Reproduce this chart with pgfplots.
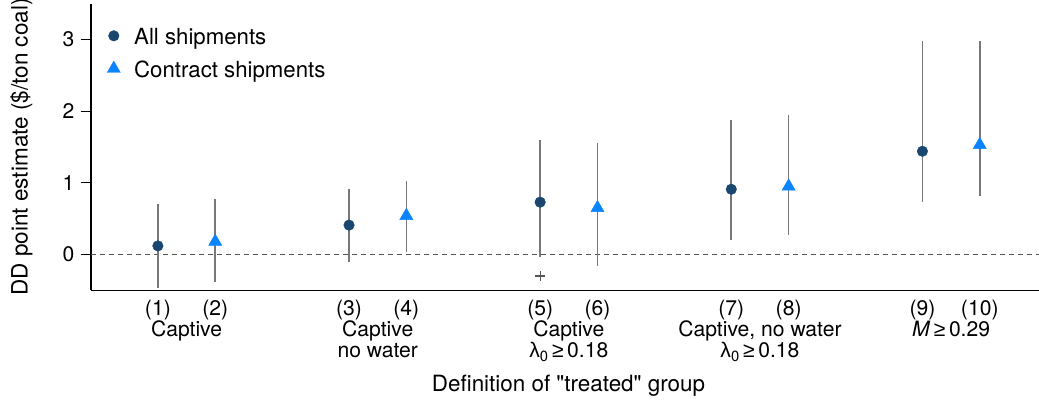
\documentclass[border=0pt]{standalone}
\usepackage{pgfplots}
\pgfplotsset{compat=1.18}
\usepackage{pgfplotstable}
\usepackage{fontspec}
\setmainfont{TeX Gyre Heros}[Ligatures=TeXOff]
\newfontfamily\symf{Liberation Sans}
\usetikzlibrary{calc}
\definecolor{navy}{RGB}{26,71,111}
\definecolor{azure}{RGB}{10,132,255}
\definecolor{cigray}{RGB}{120,120,120}
\definecolor{zerogray}{RGB}{85,85,85}

\pgfplotstableread{
x    y     lo     hi
0.85 0.12 -0.47  0.70
1.85 0.41 -0.10  0.92
2.85 0.73 -0.03  1.59
3.85 0.91  0.20  1.87
4.85 1.44  0.73  2.98
}\allship
\pgfplotstableread{
x    y     lo     hi
1.15 0.18 -0.38  0.77
2.15 0.54  0.04  1.03
3.15 0.65 -0.16  1.55
4.15 0.95  0.27  1.94
5.15 1.53  0.82  2.98
}\contship

\newcommand{\lam}{{\symf λ}\textsubscript{0}\,{\symf ≥}\,0.18}
\newcommand{\tl}[1]{\begin{tabular}[t]{@{}c@{}}#1\end{tabular}}

\begin{document}
\begin{tikzpicture}
\begin{axis}[name=ax, scale only axis, width=948bp, height=286.8bp,
  xmin=0.5, xmax=5.46, ymin=-0.5, ymax=3.5,
  axis x line=bottom, axis y line=left,
  axis line style={-, line width=1.3bp, black},
  tick align=outside, major tick length=10bp,
  ytick={0,1,2,3},
  y tick style={black, line width=1.2bp},
  yticklabel style={font=\fontsize{21.2}{24}\selectfont, xshift=-3bp, /pgf/number format/assume math mode=true},
  xtick={0.85,1.15,1.85,2.15,2.85,3.15,3.85,4.15,4.85,5.15},
  xticklabels={(1),(2),(3),(4),(5),(6),(7),(8),(9),(10)},
  x tick style={draw=none},
  xticklabel style={font=\fontsize{21.2}{21.5}\selectfont, anchor=base, inner sep=0pt, yshift=-15bp},
  extra x ticks={1,2,3,4,5},
  extra x tick labels={\tl{Captive}, \tl{Captive\\no water}, \tl{Captive\\\lam}, \tl{Captive, no water\\\lam}, \tl{\textit{M}\,{\symf ≥}\,0.29}},
  extra x tick style={x tick style={draw=none}, tick label style={anchor=base, inner sep=0pt, yshift=-20.7bp}},
  xlabel={Definition of "treated" group},
  xlabel style={at={(axis description cs:0.5037,-0.3529)}, anchor=base, font=\fontsize{22.5}{26}\selectfont},
  ylabel={DD point estimate (\$/ton coal)},
  ylabel style={at={(axis description cs:-0.0733,0.5)}, anchor=center, font=\fontsize{22.6}{26}\selectfont},
  legend style={draw=none, fill=none, at={(axis description cs:0.0169,0.9135)}, anchor=north west,
    font=\fontsize{22.3}{26}\selectfont, row sep=0bp, column sep=13.8bp, inner sep=0pt,
    nodes={inner sep=0pt, text height=16bp, text depth=16.5bp}},
  legend cell align=left,
  legend image code/.code={\draw[#1] plot coordinates {(0bp,9bp)};},
  clip=false,
]
\addplot[zerogray, dashed, dash pattern=on 5bp off 4bp, line width=1.1bp, forget plot] coordinates {(0.5,0) (5.46,0)};
\addplot[draw=none, mark=none, forget plot,
  error bars/.cd, y dir=both, y explicit, error mark=none,
  error bar style={draw=cigray, line width=1.7bp, solid}]
  table[x=x, y=y, y error plus expr=\thisrow{hi}-\thisrow{y}, y error minus expr=\thisrow{y}-\thisrow{lo}] {\allship};
\addplot[draw=none, mark=none, forget plot,
  error bars/.cd, y dir=both, y explicit, error mark=none,
  error bar style={draw=cigray, line width=1.7bp, solid}]
  table[x=x, y=y, y error plus expr=\thisrow{hi}-\thisrow{y}, y error minus expr=\thisrow{y}-\thisrow{lo}] {\contship};
\addplot[only marks, mark=*, mark size=5.3bp, color=navy, mark options={fill=navy, draw=navy}]
  table[x=x, y=y] {\allship};
\addlegendentry{All shipments}
\addplot[only marks, mark=triangle*, mark size=7.6bp, color=azure, mark options={fill=azure, draw=azure}]
  table[x=x, y=y] {\contship};
\addlegendentry{Contract shipments}
\addplot[only marks, mark=+, mark size=5bp, color=zerogray, line width=1.1bp, forget plot] coordinates {(2.85,-0.30)};
\end{axis}
\pgfresetboundingbox
\path ($(ax.south west)+(-91bp,-109.7bp)$) rectangle ($(ax.north east)+(0bp,3.55bp)$);
\end{tikzpicture}
\end{document}
